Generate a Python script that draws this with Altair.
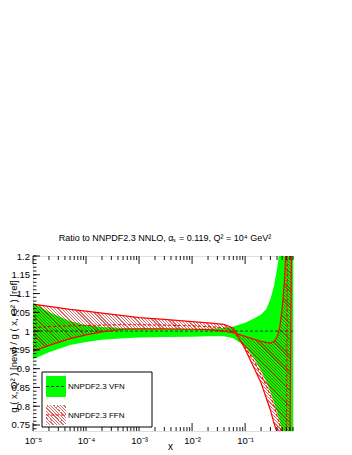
import altair as alt
import pandas as pd

# ---------------- data ----------------
x_grid = [1e-5, 2e-5, 5e-5, 1e-4, 2e-4, 5e-4, 1e-3, 3e-3, 1e-2, 2e-2, 4e-2, 6e-2,
          0.1, 0.15, 0.2, 0.25, 0.3, 0.35, 0.4, 0.45, 0.5, 0.55, 0.6, 0.63, 0.7, 0.75, 0.8]
# NNPDF2.3 VFN band (ratio to reference)
vfn_up = [1.075, 1.051, 1.026, 1.016, 1.011, 1.008, 1.007, 1.006, 1.006, 1.006, 1.008, 1.012,
          1.022, 1.034, 1.044, 1.058, 1.085, 1.12, 1.165, 1.22, 1.24, 1.24, 1.24, 1.24, 1.24, 1.24, 1.24]
vfn_lo = [0.925, 0.944, 0.963, 0.971, 0.977, 0.981, 0.983, 0.984, 0.985, 0.986, 0.986, 0.981,
          0.96, 0.926, 0.894, 0.866, 0.838, 0.81, 0.785, 0.76, 0.73, 0.70, 0.70, 0.70, 0.70, 0.70, 0.70]
vfn_central = [1.0]
# NNPDF2.3 FFN band edges and central value
ffn_a = [1.072, 1.066, 1.058, 1.053, 1.048, 1.041, 1.036, 1.031, 1.025, 1.022, 1.018, 1.008,
         0.952, 0.90, 0.862, 0.822, 0.79, 0.755, 0.73, 0.70, 0.70, 0.70, 0.70, 0.70, 0.70, 1.24, 1.24]
ffn_b = [0.946, 0.962, 0.98, 0.99, 0.998, 1.005, 1.006, 1.006, 1.005, 1.004, 1.0, 0.996,
         0.986, 0.978, 0.973, 0.97, 0.968, 0.972, 0.984, 1.01, 1.06, 1.13, 1.24, 1.24, 1.24, 1.24, 1.24]
ffn_c = [1.009, 1.012, 1.014, 1.015, 1.016, 1.017, 1.017, 1.016, 1.014, 1.012, 1.009, 1.0,
         0.957, 0.918, 0.884, 0.855, 0.828, 0.80, 0.775, 0.75, 0.72, 0.70, 0.70, 1.24, 1.24, 1.24, 1.24]

x_tick_labels = ["10⁻⁵", "10⁻⁴", "10⁻³", "10⁻²", "10⁻¹"]
x_major = [1e-5, 1e-4, 1e-3, 1e-2, 1e-1]
y_major = [0.75, 0.8, 0.85, 0.9, 0.95, 1.0, 1.05, 1.1, 1.15, 1.2]
legend_labels = ["NNPDF2.3 VFN", "NNPDF2.3 FFN"]
title_text = "Ratio to NNPDF2.3 NNLO, αₛ = 0.119, Q² = 10⁴ GeV²"
y_title = "g ( x, Q² ) [new] / g ( x, Q² ) [ref]"

# ---------------- layout / style ----------------
W, H = 260, 175
FONT = "Liberation Sans"
GREEN = "#00ff00"
RED = "#ff0000"
HATCH = "rgba(185,0,0,0.58)"

x_minor = [m * 10.0 ** e for e in range(-5, 0) for m in range(2, 10) if m * 10.0 ** e <= 0.8]
y_minor = [round(0.74 + 0.01 * i, 2) for i in range(47) if round(0.74 + 0.01 * i, 2) <= 1.2]


def hatch(n, k, color, frac=0.4):
    stops = []
    clear = "rgba(255,255,255,0)"
    for i in range(n):
        a = round(i / n, 6)
        b = round((i + frac) / n, 6)
        c = round((i + 1) / n, 6)
        stops += [{"offset": a, "color": color}, {"offset": b, "color": color},
                  {"offset": b, "color": clear}, {"offset": c, "color": clear}]
    L = (1 + k) / (1 + k * k)
    return {"gradient": "linear", "x1": 0, "y1": 1, "x2": round(L, 4),
            "y2": round(1 - k * L, 4), "stops": stops}


df = pd.DataFrame({"x": x_grid, "vfn_up": vfn_up, "vfn_lo": vfn_lo,
                   "ffn_a": ffn_a, "ffn_b": ffn_b, "ffn_c": ffn_c})

xs = alt.Scale(type="log", domain=[1e-5, 0.8], nice=False)
ys = alt.Scale(domain=[0.734, 1.2], nice=False, zero=False)

label_expr = "[" + ",".join("'%s'" % s for s in x_tick_labels) + "][round(log(datum.value)/LN10) + 5]"

x_axis = alt.Axis(values=x_major, labelExpr=label_expr, ticks=False, tickSize=0, domain=False,
                  grid=False, labelFontSize=9.5, labelFont=FONT, labelColor="black",
                  labelPadding=4, labelFlush=False, labelOverlap=False,
                  title="x", titleFont=FONT, titleFontSize=10, titleFontWeight="normal",
                  titleColor="black", titleX=137, titleY=18.5, titleAlign="center",
                  titleBaseline="alphabetic")
y_axis = alt.Axis(values=y_major, format="~g", ticks=False, tickSize=0, domain=False,
                  grid=False, labelFontSize=9.5, labelFont=FONT, labelColor="black",
                  labelPadding=3.5, labelOverlap=False,
                  title=y_title, titleFont=FONT, titleFontSize=9.5, titleFontWeight="normal",
                  titleColor="black", titleAngle=270, titleX=-19.5, titleY=90,
                  titleAlign="center", titleBaseline="middle")


def X(field):
    return alt.X(field, scale=xs, axis=x_axis)


def Y(field):
    return alt.Y(field, scale=ys, axis=y_axis)


base = alt.Chart(df)

green = base.mark_area(color=GREEN, clip=True).encode(
    x=X("x:Q"), y=Y("vfn_lo:Q"), y2="vfn_up:Q")

ffn_hatch = base.mark_area(fill=hatch(145, 0.78, HATCH), clip=True).encode(
    x=X("x:Q"), y=Y("ffn_a:Q"), y2="ffn_b:Q")

vfn_line = alt.Chart(pd.DataFrame({"r": vfn_central})).mark_rule(
    color="#222222", strokeWidth=0.9, strokeDash=[3, 2]).encode(y=Y("r:Q"))

line_a = base.mark_line(color=RED, strokeWidth=1.2, clip=True).encode(x=X("x:Q"), y=Y("ffn_a:Q"))
line_b = base.mark_line(color=RED, strokeWidth=1.2, clip=True).encode(x=X("x:Q"), y=Y("ffn_b:Q"))
line_c = base.mark_line(color=RED, strokeWidth=1.1, strokeDash=[3, 2], clip=True).encode(
    x=X("x:Q"), y=Y("ffn_c:Q"))


# inner (ROOT-style) ticks
def xticks(vals, y0, y1):
    return alt.Chart(pd.DataFrame({"t": vals})).mark_rule(color="black", strokeWidth=0.9).encode(
        x=X("t:Q"), y=alt.value(y0), y2=alt.value(y1))


def yticks(vals, x0, x1):
    return alt.Chart(pd.DataFrame({"t": vals})).mark_rule(color="black", strokeWidth=0.9).encode(
        y=Y("t:Q"), x=alt.value(x0), x2=alt.value(x1))


ticks = [xticks(x_major, H, H - 8), xticks(x_minor, H, H - 4),
         xticks(x_major, 0, 8), xticks(x_minor, 0, 4),
         yticks(y_major, 0, 7), yticks(y_minor, 0, 3.5)]

# legend drawn in the ROOT style
one = pd.DataFrame({"a": [0]})
leg_box = alt.Chart(one).mark_rect(fill="white", stroke="black", strokeWidth=1).encode(
    x=alt.value(9), x2=alt.value(119), y=alt.value(116), y2=alt.value(171))
leg_green = alt.Chart(one).mark_rect(fill=GREEN).encode(
    x=alt.value(13), x2=alt.value(33), y=alt.value(120), y2=alt.value(141))
leg_green_line = alt.Chart(one).mark_rule(color="#222222", strokeWidth=0.9, strokeDash=[3, 2]).encode(
    x=alt.value(13), x2=alt.value(33), y=alt.value(130.5))
leg_hatch = alt.Chart(one).mark_rect(fill=hatch(12, 1.0, HATCH)).encode(
    x=alt.value(13), x2=alt.value(33), y=alt.value(149), y2=alt.value(169))
leg_red_line = alt.Chart(one).mark_rule(color=RED, strokeWidth=1.1, strokeDash=[3, 2]).encode(
    x=alt.value(13), x2=alt.value(33), y=alt.value(159))
leg_t1 = alt.Chart(one).mark_text(align="left", baseline="middle", fontSize=8, font=FONT,
                                  color="black").encode(
    x=alt.value(35), y=alt.value(131), text=alt.value(legend_labels[0]))
leg_t2 = alt.Chart(one).mark_text(align="left", baseline="middle", fontSize=8, font=FONT,
                                  color="black").encode(
    x=alt.value(35), y=alt.value(160), text=alt.value(legend_labels[1]))

chart = alt.layer(
    green, ffn_hatch, vfn_line, line_a, line_b, line_c, *ticks,
    leg_box, leg_green, leg_green_line, leg_hatch, leg_red_line, leg_t1, leg_t2
).properties(
    width=W, height=H,
    title=alt.TitleParams(text=title_text, fontSize=9, fontWeight="normal", font=FONT,
                          anchor="middle", frame="group", offset=8, dx=2, color="black"),
    autosize=alt.AutoSizeParams(type="none"),
    padding={"left": 25, "top": 248, "right": 40, "bottom": 22},
).configure_view(stroke="black", strokeWidth=1).configure(font=FONT)

chart.save("out.html", embed_options={"renderer": "svg", "actions": False})
